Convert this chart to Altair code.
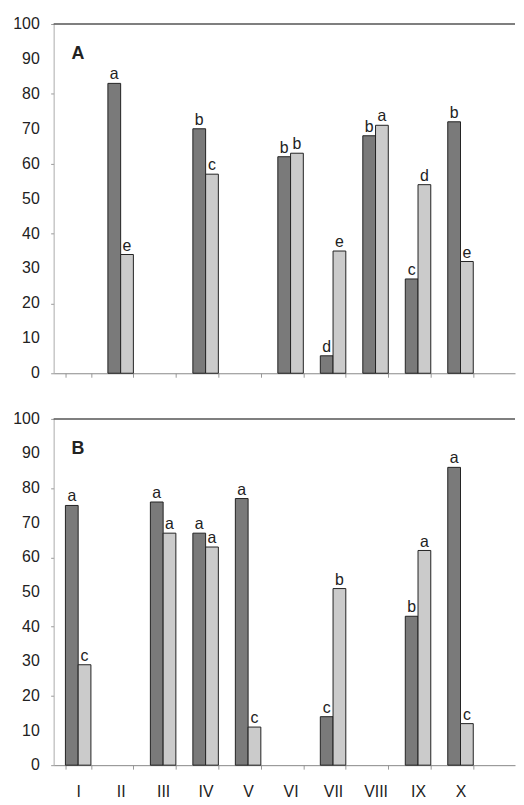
import altair as alt
import pandas as pd

categories = ["I", "II", "III", "IV", "V", "VI", "VII", "VIII", "IX", "X"]

A_dark = [None, 83, None, 70, None, 62, 5, 68, 27, 72]
A_light = [None, 34, None, 57, None, 63, 35, 71, 54, 32]
A_dark_letters = ["", "a", "", "b", "", "b", "d", "b", "c", "b"]
A_light_letters = ["", "e", "", "c", "", "b", "e", "a", "d", "e"]

B_dark = [75, None, 76, 67, 77, None, 14, None, 43, 86]
B_light = [29, None, 67, 63, 11, None, 51, None, 62, 12]
B_dark_letters = ["a", "", "a", "a", "a", "", "c", "", "b", "a"]
B_light_letters = ["c", "", "a", "a", "c", "", "b", "", "a", "c"]

y_ticks = [0, 10, 20, 30, 40, 50, 60, 70, 80, 90, 100]
FONT = "Liberation Sans"


def panel(dark, light, dl, ll, tag, height, show_labels):
    rows = []
    for i, c in enumerate(categories):
        if dark[i] is not None:
            rows.append({"cat": c, "series": "dark", "value": dark[i], "letter": dl[i]})
        if light[i] is not None:
            rows.append({"cat": c, "series": "light", "value": light[i], "letter": ll[i]})
    df = pd.DataFrame(rows)

    x = alt.X(
        "cat:N",
        sort=categories,
        scale=alt.Scale(domain=categories, paddingInner=0.4, paddingOuter=0.63, align=0.22),
        axis=alt.Axis(
            title=None, labels=show_labels, tickBand="extent", tickSize=4,
            domainColor="#888", tickColor="#999", labelFontSize=16, labelPadding=15,
            labelAngle=0, labelColor="#222", labelFont=FONT,
        ),
    )
    yaxis = alt.Axis(
        title=None, values=y_ticks, grid=False, domainColor="#aaa", tickColor="#999",
        tickSize=3, labels=False,
    )
    yscale = alt.Scale(domain=[0, 100], nice=False, zero=True)
    xo = alt.XOffset("series:N", scale=alt.Scale(domain=["dark", "light"], paddingInner=0, paddingOuter=0))
    color = alt.Color("series:N", scale=alt.Scale(domain=["dark", "light"], range=["#7a7a7a", "#cbcbcb"]), legend=None)

    bars = alt.Chart(df).mark_bar(stroke="#222", strokeWidth=1).encode(
        x=x, xOffset=xo, y=alt.Y("value:Q", scale=yscale, axis=yaxis), color=color
    )
    text = alt.Chart(df).mark_text(baseline="bottom", dy=-1, fontSize=16, font=FONT, color="#222").encode(
        x=x, xOffset=xo, y=alt.Y("value:Q", scale=yscale), text="letter:N"
    )
    top = alt.Chart(pd.DataFrame({"value": [100]})).mark_rule(color="#555", strokeWidth=1.5).encode(
        y=alt.Y("value:Q", scale=yscale)
    )
    ylabels = alt.Chart(pd.DataFrame({"value": y_ticks})).mark_text(
        align="right", baseline="middle", fontSize=16, font=FONT, color="#222"
    ).encode(x=alt.value(-14), y=alt.Y("value:Q", scale=yscale), text=alt.Text("value:Q", format="d"))
    lab = alt.Chart(pd.DataFrame({"t": [tag]})).mark_text(
        align="left", baseline="middle", fontSize=18, fontWeight="bold", font=FONT, color="#222"
    ).encode(x=alt.value(18), y=alt.value(30), text="t:N")
    return alt.layer(bars, text, top, ylabels, lab).properties(width=465, height=height)


pA = panel(A_dark, A_light, A_dark_letters, A_light_letters, "A", 352, False)
pB = panel(B_dark, B_light, B_dark_letters, B_light_letters, "B", 349, True)

chart = (
    alt.vconcat(pA, pB, spacing=30)
    .properties(padding={"left": 5, "top": 5, "right": 0, "bottom": 0}, background="white")
    .configure_view(stroke=None)
)

chart.save("out.html", embed_options={"renderer": "svg", "actions": False})
